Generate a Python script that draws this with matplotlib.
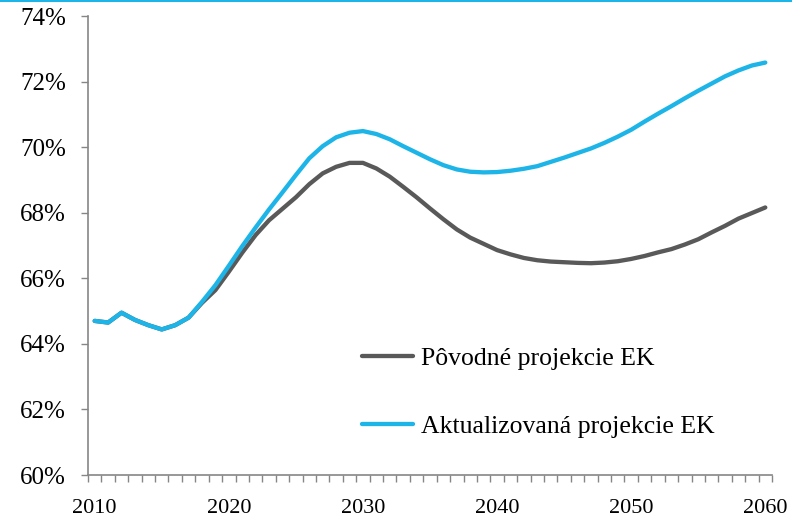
import matplotlib.pyplot as plt
from matplotlib.lines import Line2D
from matplotlib.ticker import FuncFormatter

# Roky a hodnoty (v %)
roky = list(range(2010, 2061))

povodne = [64.70, 64.65, 64.95, 64.73, 64.57, 64.44, 64.57, 64.80, 65.25, 65.64,
           66.20, 66.78, 67.32, 67.77, 68.12, 68.47, 68.87, 69.20, 69.40, 69.52,
           69.52, 69.35, 69.10, 68.79, 68.47, 68.13, 67.80, 67.49, 67.24, 67.05,
           66.86, 66.73, 66.62, 66.55, 66.51, 66.49, 66.47, 66.46, 66.48, 66.52,
           66.59, 66.68, 66.79, 66.89, 67.03, 67.19, 67.40, 67.60, 67.82, 67.99,
           68.16]

aktualizovane = [64.70, 64.65, 64.95, 64.73, 64.57, 64.44, 64.57, 64.80, 65.28, 65.79,
                 66.38, 66.98, 67.55, 68.10, 68.62, 69.15, 69.66, 70.03, 70.30, 70.44,
                 70.49, 70.40, 70.24, 70.03, 69.83, 69.63, 69.45, 69.32, 69.25, 69.23,
                 69.24, 69.28, 69.34, 69.42, 69.55, 69.68, 69.82, 69.96, 70.13, 70.32,
                 70.53, 70.78, 71.02, 71.25, 71.49, 71.72, 71.94, 72.16, 72.34, 72.49,
                 72.58]

popisky_x = [2010, 2020, 2030, 2040, 2050, 2060]

seda = '#595959'
modra = '#1DB4E8'
os_farba = '#868686'

plt.rcParams['font.family'] = ['Liberation Serif', 'DejaVu Serif']

fig = plt.figure(figsize=(8.07, 5.22), dpi=100)
ax = fig.add_axes([88 / 807, 1 - 475 / 522, (772 - 88) / 807, (475 - 16) / 522])

ax.plot(roky, povodne, color=seda, lw=3.1, solid_capstyle='round',
        label='Pôvodné projekcie EK')
ax.plot(roky, aktualizovane, color=modra, lw=3.1, solid_capstyle='round',
        label='Aktualizovaná projekcie EK')

ax.set_xlim(2009.5, 2060.5)
ax.set_ylim(60, 74)
ax.set_yticks(range(60, 75, 2))
ax.yaxis.set_major_formatter(FuncFormatter(lambda v, p: f'{v:.0f}%'))

# hranice kategórií s ryskami, popisky v strede kategórií
ax.set_xticks([r - 0.5 for r in roky] + [2060.5])
ax.set_xticklabels([])
ax.set_xticks(popisky_x, minor=True)
ax.set_xticklabels([str(r) for r in popisky_x], minor=True)
ax.tick_params(axis='x', which='major', length=5, width=1, color=os_farba, direction='out')
ax.tick_params(axis='x', which='minor', length=0, pad=17, labelsize=16)
ax.tick_params(axis='y', length=5, width=1, color=os_farba, direction='out',
               pad=11, labelsize=18)

for s in ['top', 'right']:
    ax.spines[s].set_visible(False)
for s in ['left', 'bottom']:
    ax.spines[s].set_color(os_farba)
    ax.spines[s].set_linewidth(1.2)

ax.legend(loc='upper left', bbox_to_anchor=(362 / 807, 1 - 347 / 522),
          bbox_transform=fig.transFigure, frameon=False, fontsize=18.5,
          handlelength=2.0, handletextpad=0.3, labelspacing=1.75,
          borderpad=0, borderaxespad=0)

# tenká modrá linka na hornom okraji
fig.add_artist(Line2D([0, 791 / 807], [0.998, 0.998], color=modra, lw=1.5,
                      transform=fig.transFigure))

fig.savefig('out.png', dpi=100)
